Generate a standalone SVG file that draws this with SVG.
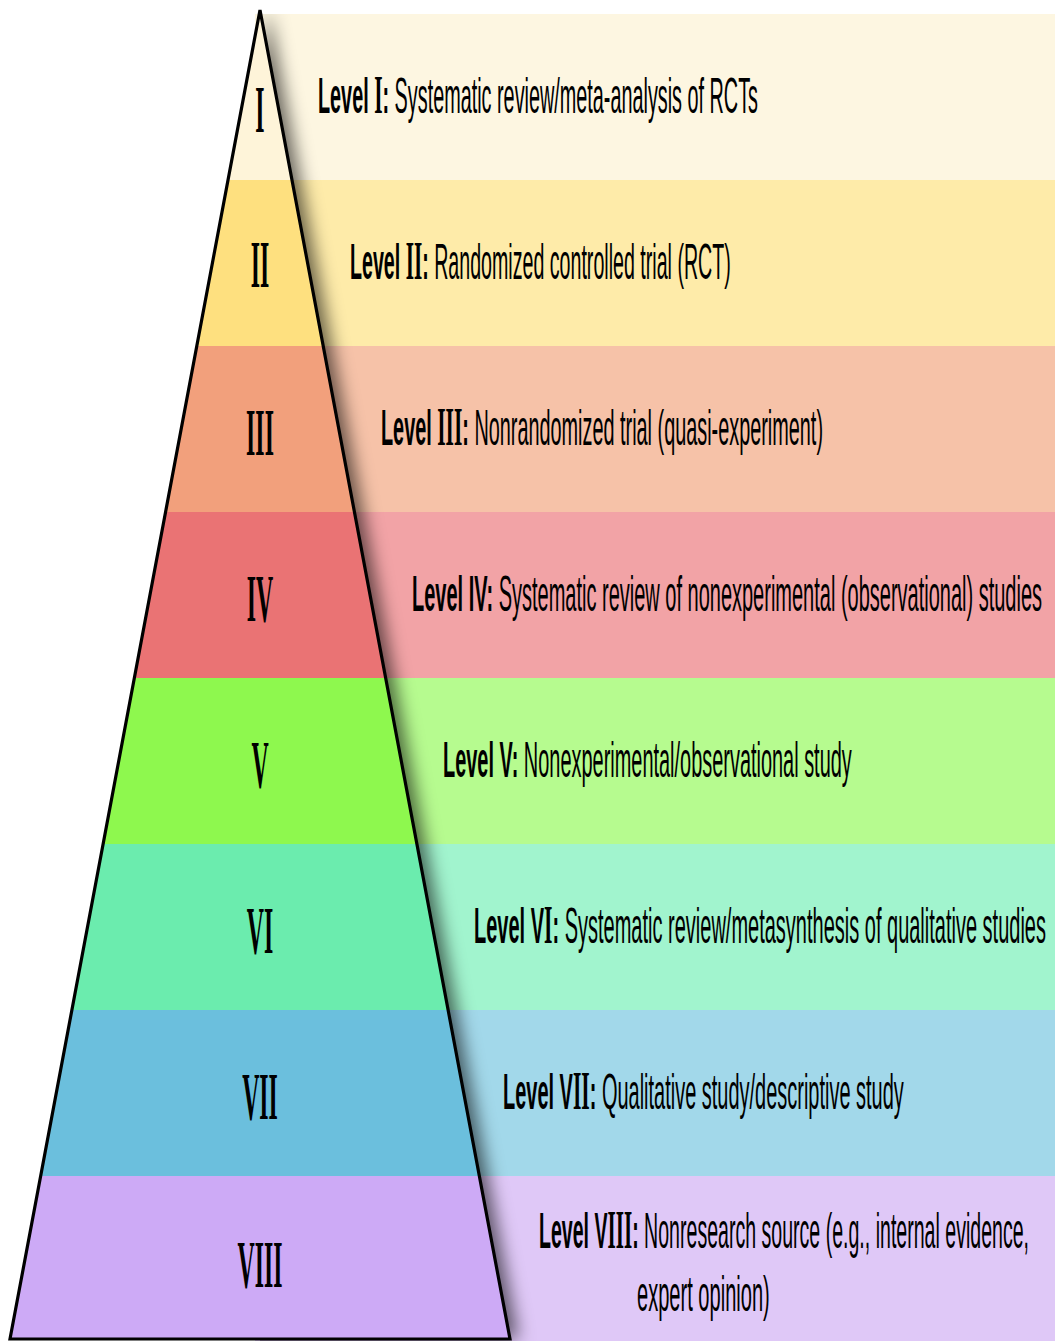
<svg xmlns="http://www.w3.org/2000/svg" width="1055" height="1341" viewBox="0 0 1055 1341">
  <style>
    .lbl { font-family: "Liberation Sans", Arial, sans-serif; font-size: 50px; fill: #000; }
    .lbl .b { font-weight: bold; }
    .lbl .rn { font-family: "Liberation Serif", "Times New Roman", serif; font-size: 54px; font-weight: bold; }
    .num { font-family: "Liberation Serif", "Times New Roman", serif; font-size: 68px; font-weight: bold; fill: #000; text-anchor: middle; }
    .outline { fill: none; stroke: #000; stroke-width: 3.2; stroke-linejoin: miter; }
  </style>
  <defs>
    <filter id="blur" x="-20%" y="-5%" width="140%" height="110%">
      <feGaussianBlur stdDeviation="9"/>
    </filter>
    <clipPath id="rightSide">
      <rect x="260" y="14" width="795" height="1327"/>
    </clipPath>
  </defs>
  <rect width="1055" height="1341" fill="#ffffff"/>

  <g id="band-rects">
    <rect x="255" y="14" width="800" height="166" fill="#FDF6E1"/>
    <rect x="255" y="180" width="800" height="166" fill="#FEEBA9"/>
    <rect x="255" y="346" width="800" height="166" fill="#F6C2A8"/>
    <rect x="255" y="512" width="800" height="166" fill="#F2A3A6"/>
    <rect x="255" y="678" width="800" height="166" fill="#B6FB8F"/>
    <rect x="255" y="844" width="800" height="166" fill="#A1F4CE"/>
    <rect x="255" y="1010" width="800" height="166" fill="#A2D8EA"/>
    <rect x="255" y="1176" width="800" height="165" fill="#DFC8F7"/>
  </g>

  <g id="pyramid-shadow" clip-path="url(#rightSide)">
    <polygon points="268,10 518,1339 18,1339" fill="#000" fill-opacity="0.6" filter="url(#blur)"/>
  </g>

  <g id="level-1">
    <polygon points="260,10 292,180 228,180" fill="#FEF4D9"/>
    <text class="num" transform="translate(260,132) scale(0.35,1)">I</text>
    <text class="lbl" transform="translate(318,113) scale(0.4,1)" textLength="1100" lengthAdjust="spacingAndGlyphs"><tspan class="b">Level <tspan class="rn">I</tspan>:</tspan> Systematic review/meta-analysis of RCTs</text>
  </g>
  <g id="level-2">
    <polygon points="228,180 292,180 323.2,346 196.8,346" fill="#FEE07F"/>
    <text class="num" transform="translate(260,287) scale(0.35,1)">II</text>
    <text class="lbl" transform="translate(350,279) scale(0.4,1)" textLength="952" lengthAdjust="spacingAndGlyphs"><tspan class="b">Level <tspan class="rn">II</tspan>:</tspan> Randomized controlled trial (RCT)</text>
  </g>
  <g id="level-3">
    <polygon points="196.8,346 323.2,346 354.4,512 165.6,512" fill="#F2A07C"/>
    <text class="num" transform="translate(260,455) scale(0.35,1)">III</text>
    <text class="lbl" transform="translate(381,445) scale(0.4,1)" textLength="1105" lengthAdjust="spacingAndGlyphs"><tspan class="b">Level <tspan class="rn">III</tspan>:</tspan> Nonrandomized trial (quasi-experiment)</text>
  </g>
  <g id="level-4">
    <polygon points="165.6,512 354.4,512 385.7,678 134.3,678" fill="#EA7374"/>
    <text class="num" transform="translate(260,621) scale(0.35,1)">IV</text>
    <text class="lbl" transform="translate(412,611) scale(0.4,1)" textLength="1575" lengthAdjust="spacingAndGlyphs"><tspan class="b">Level IV:</tspan> Systematic review of nonexperimental (observational) studies</text>
  </g>
  <g id="level-5">
    <polygon points="134.3,678 385.7,678 416.9,844 103.1,844" fill="#8EF84E"/>
    <text class="num" transform="translate(260,787) scale(0.35,1)">V</text>
    <text class="lbl" transform="translate(443,777) scale(0.4,1)" textLength="1022" lengthAdjust="spacingAndGlyphs"><tspan class="b">Level V:</tspan> Nonexperimental/observational study</text>
  </g>
  <g id="level-6">
    <polygon points="103.1,844 416.9,844 448.1,1010 71.9,1010" fill="#6BECAE"/>
    <text class="num" transform="translate(260,953) scale(0.35,1)">VI</text>
    <text class="lbl" transform="translate(474,943) scale(0.4,1)" textLength="1430" lengthAdjust="spacingAndGlyphs"><tspan class="b">Level V<tspan class="rn">I</tspan>:</tspan> Systematic review/metasynthesis of qualitative studies</text>
  </g>
  <g id="level-7">
    <polygon points="71.9,1010 448.1,1010 479.3,1176 40.7,1176" fill="#6BBFDD"/>
    <text class="num" transform="translate(260,1119) scale(0.35,1)">VII</text>
    <text class="lbl" transform="translate(503,1109) scale(0.4,1)" textLength="1002" lengthAdjust="spacingAndGlyphs"><tspan class="b">Level V<tspan class="rn">II</tspan>:</tspan> Qualitative study/descriptive study</text>
  </g>
  <g id="level-8">
    <polygon points="40.7,1176 479.3,1176 510,1339 10,1339" fill="#CDAAF6"/>
    <text class="num" transform="translate(260,1287) scale(0.35,1)">VIII</text>
    <text class="lbl" transform="translate(539,1248) scale(0.4,1)" textLength="1225" lengthAdjust="spacingAndGlyphs"><tspan class="b">Level V<tspan class="rn">III</tspan>:</tspan> Nonresearch source (e.g., internal evidence,</text>
    <text class="lbl" transform="translate(637,1311) scale(0.4,1)" textLength="332" lengthAdjust="spacingAndGlyphs">expert opinion)</text>
  </g>

  <polygon id="pyramid-outline" class="outline" points="260,10 510,1339 10,1339"/>
</svg>
